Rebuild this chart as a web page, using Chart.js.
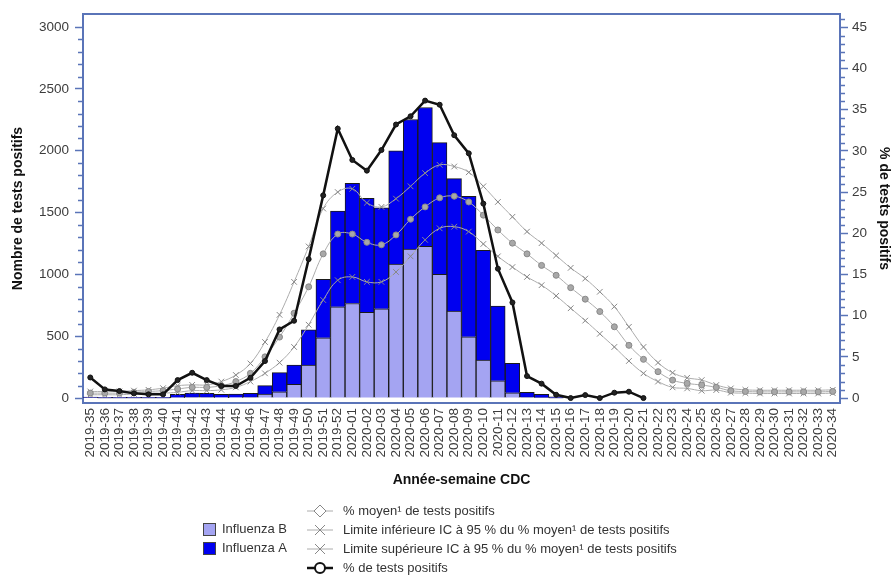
<!DOCTYPE html>
<html>
<head>
<meta charset="utf-8">
<script src="https://cdn.jsdelivr.net/npm/chart.js@4.4.1/dist/chart.umd.min.js"></script>
<style>
  html, body { margin: 0; padding: 0; background: #fff; }
  #wrap { width: 894px; height: 576px; position: relative; }
</style>
</head>
<body>
<div id="wrap"><canvas id="fluChart" width="894" height="576"></canvas></div>
<script>
// weeks (CDC year-week)
const weeks = [
  '2019-35','2019-36','2019-37','2019-38','2019-39','2019-40','2019-41','2019-42','2019-43','2019-44',
  '2019-45','2019-46','2019-47','2019-48','2019-49','2019-50','2019-51','2019-52','2020-01','2020-02',
  '2020-03','2020-04','2020-05','2020-06','2020-07','2020-08','2020-09','2020-10','2020-11','2020-12',
  '2020-13','2020-14','2020-15','2020-16','2020-17','2020-18','2020-19','2020-20','2020-21','2020-22',
  '2020-23','2020-24','2020-25','2020-26','2020-27','2020-28','2020-29','2020-30','2020-31','2020-32',
  '2020-33','2020-34'
];

// number of positive tests
const fluB = [3,2,2,2,2,2,5,8,8,6,6,8,32,51,110,267,488,738,765,693,
  722,1083,1205,1226,1000,703,496,307,140,43,8,3,2,0,0,0,0,0,0,0,
  0,0,0,0,0,0,0,0,0,0,0,0];
const fluA = [5,4,4,3,3,3,25,32,30,24,26,30,68,154,157,285,472,774,971,922,
  817,917,1048,1124,1065,1071,1135,887,604,237,38,27,8,0,0,0,0,0,0,0,
  0,0,0,0,0,0,0,0,0,0,0,0];

// % positive (right axis)
const pctPositive = [2.5,1.05,0.85,0.57,0.45,0.45,2.18,3.07,2.18,1.46,1.46,2.46,4.49,8.33,9.38,16.86,24.6,32.7,28.9,27.6,
  30.1,33.2,34.2,36.1,35.6,31.9,29.7,23.6,15.7,11.6,2.67,1.75,0.4,0,0.36,0,0.65,0.77,0,
  null,null,null,null,null,null,null,null,null,null,null,null,null];
const pctMean = [0.6,0.6,0.6,0.7,0.8,0.9,1.1,1.3,1.3,1.5,2.0,3.0,5.0,7.4,10.3,13.5,17.5,19.9,19.9,18.9,
  18.6,19.8,21.7,23.2,24.3,24.5,23.8,22.2,20.4,18.8,17.5,16.1,14.9,13.4,12.0,10.5,8.65,6.4,4.7,3.2,
  2.18,1.78,1.58,1.3,0.89,0.8,0.75,0.75,0.75,0.75,0.75,0.8];
const pctUpper = [0.8,0.8,0.8,0.9,1.0,1.2,1.5,1.6,1.6,2.0,2.8,4.2,6.8,10.1,14.1,18.4,23.0,25.0,25.4,23.7,
  23.2,24.2,25.7,27.3,28.3,28.1,27.4,25.7,23.8,22.0,20.2,18.8,17.3,15.8,14.5,12.9,11.1,8.65,6.2,4.3,
  3.07,2.46,2.18,1.58,1.17,1.0,0.95,0.95,0.95,0.95,0.95,1.0];
const pctLower = [0.4,0.4,0.4,0.5,0.6,0.6,0.7,0.9,0.9,1.0,1.3,2.0,3.0,4.3,6.2,8.9,11.9,14.3,14.7,14.1,
  14.1,15.3,17.2,19.2,20.6,20.8,20.2,18.7,17.2,15.9,14.7,13.7,12.4,10.9,9.4,7.8,6.2,4.5,3.0,2.0,
  1.3,1.17,0.89,0.97,0.65,0.6,0.55,0.55,0.55,0.55,0.55,0.6];

const leftTicks = [0,500,1000,1500,2000,2500,3000];
const rightTicks = [0,5,10,15,20,25,30,35,40,45];

const frameColor = '#5a74b8';
const grayLine = '#acacac';
const grayMark = '#888888';
const colorB = '#a4a4f2';
const colorA = '#0000f0';
const FONT = '"Liberation Sans", Arial, sans-serif';

Chart.defaults.font.family = FONT;
Chart.defaults.color = '#3c3c3c';

// minor ticks + top of the frame
const framePlugin = {
  id: 'frame',
  afterDraw(chart) {
    const ctx = chart.ctx;
    const a = chart.chartArea;
    const y = chart.scales.y, y1 = chart.scales.y1;
    ctx.save();
    ctx.strokeStyle = frameColor;
    ctx.lineWidth = 2;
    ctx.beginPath();
    ctx.moveTo(a.left, a.top); ctx.lineTo(a.right, a.top);
    ctx.stroke();
    ctx.lineWidth = 1.5;
    ctx.beginPath();
    for (let v = 100; v < 3100; v += 100) {
      if (v % 500 === 0) continue;
      const p = Math.round(y.getPixelForValue(v)) + 0.5;
      ctx.moveTo(a.left - 5, p); ctx.lineTo(a.left, p);
    }
    for (let v = 1; v <= 46; v++) {
      if (v % 5 === 0) continue;
      const p = Math.round(y1.getPixelForValue(v)) + 0.5;
      ctx.moveTo(a.right, p); ctx.lineTo(a.right + 5, p);
    }
    ctx.stroke();
    ctx.restore();
  }
};

const barLegend = [
  { label: 'Influenza B', color: colorB },
  { label: 'Influenza A', color: colorA }
];
const lineLegend = [
  { label: '% moyen¹ de tests positifs', style: 'diamond' },
  { label: 'Limite inférieure IC à 95 % du % moyen¹ de tests positifs', style: 'cross' },
  { label: 'Limite supérieure IC à 95 % du % moyen¹ de tests positifs', style: 'cross' },
  { label: '% de tests positifs', style: 'circle' }
];

const legendPlugin = {
  id: 'customLegend',
  afterDraw(chart) {
    const ctx = chart.ctx;
    ctx.save();
    ctx.font = '13px ' + FONT;
    ctx.textBaseline = 'middle';
    barLegend.forEach((item, k) => {
      const cy = 529 + k * 19;
      ctx.fillStyle = item.color;
      ctx.fillRect(203, cy - 6, 13, 13);
      ctx.strokeStyle = '#444';
      ctx.lineWidth = 1;
      ctx.strokeRect(203.5, cy - 5.5, 12, 12);
      ctx.fillStyle = '#333';
      ctx.fillText(item.label, 222, cy);
    });
    lineLegend.forEach((item, k) => {
      const cy = 511 + k * 19;
      const x0 = 307, x1 = 333, xc = 320;
      ctx.beginPath();
      ctx.moveTo(x0, cy); ctx.lineTo(x1, cy);
      if (item.style === 'circle') {
        ctx.strokeStyle = '#111'; ctx.lineWidth = 2.5;
      } else {
        ctx.strokeStyle = grayLine; ctx.lineWidth = 1;
      }
      ctx.stroke();
      ctx.beginPath();
      if (item.style === 'diamond') {
        ctx.moveTo(xc, cy - 6); ctx.lineTo(xc + 6, cy); ctx.lineTo(xc, cy + 6); ctx.lineTo(xc - 6, cy); ctx.closePath();
        ctx.fillStyle = '#fff'; ctx.fill();
        ctx.strokeStyle = grayMark; ctx.lineWidth = 1; ctx.stroke();
      } else if (item.style === 'cross') {
        ctx.moveTo(xc - 5, cy - 5); ctx.lineTo(xc + 5, cy + 5);
        ctx.moveTo(xc + 5, cy - 5); ctx.lineTo(xc - 5, cy + 5);
        ctx.strokeStyle = grayMark; ctx.lineWidth = 1; ctx.stroke();
      } else {
        ctx.arc(xc, cy, 5, 0, Math.PI * 2);
        ctx.fillStyle = '#fff'; ctx.fill();
        ctx.strokeStyle = '#111'; ctx.lineWidth = 2; ctx.stroke();
      }
      ctx.fillStyle = '#333';
      ctx.fillText(item.label, 343, cy);
    });
    ctx.restore();
  }
};

const ctx = document.getElementById('fluChart').getContext('2d');

new Chart(ctx, {
  type: 'bar',
  data: {
    labels: weeks,
    datasets: [
      {
        type: 'line',
        label: '% de tests positifs',
        data: pctPositive,
        yAxisID: 'y1',
        borderColor: '#111',
        backgroundColor: '#222',
        borderWidth: 2.5,
        pointRadius: 2.5,
        pointBorderWidth: 1,
        pointStyle: 'circle',
        tension: 0,
        spanGaps: false,
        order: 0
      },
      {
        type: 'line',
        label: '% moyen',
        data: pctMean,
        yAxisID: 'y1',
        borderColor: grayLine,
        backgroundColor: '#a8a8a8',
        pointBorderColor: grayMark,
        borderWidth: 1,
        pointRadius: 3,
        pointStyle: 'circle',
        tension: 0.4,
        order: 1
      },
      {
        type: 'line',
        label: 'Limite inférieure',
        data: pctLower,
        yAxisID: 'y1',
        borderColor: grayLine,
        pointBorderColor: grayMark,
        borderWidth: 1,
        pointRadius: 4,
        pointStyle: 'crossRot',
        tension: 0.4,
        order: 1
      },
      {
        type: 'line',
        label: 'Limite supérieure',
        data: pctUpper,
        yAxisID: 'y1',
        borderColor: grayLine,
        pointBorderColor: grayMark,
        borderWidth: 1,
        pointRadius: 4,
        pointStyle: 'crossRot',
        tension: 0.4,
        order: 1
      },
      {
        label: 'Influenza B',
        data: fluB,
        yAxisID: 'y',
        stack: 'flu',
        backgroundColor: colorB,
        borderColor: '#1a1a1a',
        borderWidth: 1,
        barPercentage: 1,
        categoryPercentage: 1,
        order: 2
      },
      {
        label: 'Influenza A',
        data: fluA,
        yAxisID: 'y',
        stack: 'flu',
        backgroundColor: colorA,
        borderColor: '#1a1a1a',
        borderWidth: 1,
        barPercentage: 1,
        categoryPercentage: 1,
        order: 2
      }
    ]
  },
  options: {
    responsive: false,
    animation: false,
    layout: { padding: { top: 14, left: 0, right: 0, bottom: 0 } },
    plugins: {
      legend: { display: false },
      tooltip: { enabled: false }
    },
    scales: {
      x: {
        stacked: true,
        offset: true,
        grid: { display: false, drawTicks: false },
        border: { display: true, color: frameColor, width: 2 },
        ticks: {
          autoSkip: false,
          minRotation: 90,
          maxRotation: 90,
          padding: 5,
          color: '#3c3c3c',
          font: { size: 13.5 }
        },
        title: {
          display: true,
          text: 'Année-semaine CDC',
          color: '#111',
          font: { size: 14, weight: 'bold' },
          padding: { top: 4, bottom: 87 }
        },
        afterFit: s => { s.height = 173; }
      },
      y: {
        position: 'left',
        stacked: true,
        min: -40,
        max: 3105,
        afterBuildTicks: s => { s.ticks = leftTicks.map(v => ({ value: v })); },
        grid: { display: true, drawOnChartArea: false, drawTicks: true, tickLength: 8, tickWidth: 1.5, tickColor: frameColor },
        border: { display: true, color: frameColor, width: 2 },
        ticks: { padding: 6, color: '#3c3c3c', font: { size: 13.5 }, callback: v => String(v) },
        title: {
          display: true,
          text: 'Nombre de tests positifs',
          color: '#111',
          font: { size: 14, weight: 'bold' },
          padding: { top: 10, bottom: 0 }
        },
        afterFit: s => { s.width = 83; }
      },
      y1: {
        position: 'right',
        min: -0.6,
        max: 46.6,
        afterBuildTicks: s => { s.ticks = rightTicks.map(v => ({ value: v })); },
        grid: { display: true, drawOnChartArea: false, drawTicks: true, tickLength: 8, tickWidth: 1.5, tickColor: frameColor },
        border: { display: true, color: frameColor, width: 2 },
        ticks: { padding: 4, color: '#3c3c3c', font: { size: 13.5 }, callback: v => String(v) },
        title: {
          display: true,
          text: '% de tests positifs',
          color: '#111',
          font: { size: 14, weight: 'bold' },
          padding: { top: 2, bottom: 0 }
        },
        afterFit: s => { s.width = 54; }
      }
    }
  },
  plugins: [framePlugin, legendPlugin]
});
</script>
</body>
</html>
